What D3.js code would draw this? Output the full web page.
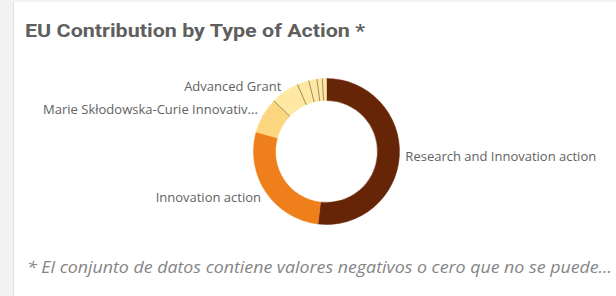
<!DOCTYPE html>
<html lang="en">
  <head>
    <meta charset="UTF-8" />
    <title>EU Contribution by Type of Action</title>
    <style>
      body {
        margin: 0;
        background-color: #f2f2f2;
      }
      svg {
        display: block;
      }
    </style>
  </head>
  <body>
    <svg></svg>
    <script src="https://d3js.org/d3.v7.min.js"></script>
    <script>
      const actionTypes = [
        "Research and Innovation action",
        "Innovation action",
        "Marie Skłodowska-Curie Innovative Training Networks",
        "Advanced Grant",
        "Coordination and support action",
        "Consolidator Grant",
        "Starting Grant",
        "Proof of Concept Grant"
      ];
      const contribution = [518, 274, 79, 63, 26, 18, 12, 9];
      const shownLabels = [
        "Research and Innovation action",
        "Innovation action",
        "Marie Skłodowska-Curie Innovativ...",
        "Advanced Grant"
      ];
      const sliceColors = ["#662506", "#ef7f1b", "#fdd680", "#fee8a2", "#fee8a2", "#fee8a2", "#fee8a2", "#fee8a2"];

      const gWidth = 616;
      const gHeight = 296;
      const cx = 326.5;
      const cy = 151.5;
      const outerR = 73;
      const innerR = 51;

      const svg = d3.select("svg").attr("width", gWidth).attr("height", gHeight);

      // panel
      svg.append("rect").attr("x", 13).attr("y", 2).attr("width", gWidth - 13).attr("height", gHeight - 2).attr("fill", "#fff");
      svg.append("line").attr("x1", 13.5).attr("x2", 13.5).attr("y1", 2).attr("y2", gHeight).attr("stroke", "#e2e2e2");

      svg.append("text")
        .attr("x", 25)
        .attr("y", 37)
        .attr("font-family", "Roboto, sans-serif")
        .attr("font-weight", "bold")
        .attr("font-size", 18)
        .attr("fill", "#5f5f5f")
        .attr("textLength", 340)
        .attr("lengthAdjust", "spacingAndGlyphs")
        .text("EU Contribution by Type of Action *");

      const data = actionTypes.map((d, i) => ({ name: d, value: contribution[i], color: sliceColors[i] }));
      const pie = d3.pie().sort(null).value((d) => d.value);
      const arcs = pie(data);
      const arc = d3.arc().innerRadius(innerR).outerRadius(outerR);

      const g = svg.append("g").attr("transform", `translate(${cx},${cy})`);

      g.selectAll("path")
        .data(arcs)
        .enter()
        .append("path")
        .attr("d", arc)
        .attr("fill", (d) => d.data.color)
        .attr("stroke", (d) => d.data.color)
        .attr("stroke-width", 0.5);

      // thin dividers between the small light slices
      g.selectAll("line.sep")
        .data(arcs.slice(3))
        .enter()
        .append("line")
        .attr("class", "sep")
        .attr("x1", (d) => innerR * Math.sin(d.startAngle))
        .attr("y1", (d) => -innerR * Math.cos(d.startAngle))
        .attr("x2", (d) => outerR * Math.sin(d.startAngle))
        .attr("y2", (d) => -outerR * Math.cos(d.startAngle))
        .attr("stroke", "#9a8d6c")
        .attr("stroke-width", 1);

      const labelR = outerR + 6;
      const mid = (d) => (d.startAngle + d.endAngle) / 2;
      g.selectAll("text.lbl")
        .data(arcs.slice(0, shownLabels.length))
        .enter()
        .append("text")
        .attr("class", "lbl")
        .attr("x", (d) => labelR * Math.sin(mid(d)))
        .attr("y", (d) => -labelR * Math.cos(mid(d)) + (mid(d) > 4.9 && mid(d) < 5.5 ? -3 : mid(d) > 3.5 && mid(d) < 4.5 ? 2 : 0))
        .attr("dy", "0.35em")
        .attr("text-anchor", (d) => (mid(d) < Math.PI ? "start" : "end"))
        .attr("font-family", "Open Sans, sans-serif")
        .attr("font-size", 13)
        .attr("fill", "#626262")
        .text((d, i) => shownLabels[i]);

      svg.append("text")
        .attr("x", 27)
        .attr("y", 273)
        .attr("font-family", "Open Sans, sans-serif")
        .attr("font-style", "italic")
        .attr("font-size", 16)
        .attr("fill", "#858585")
        .attr("textLength", 585)
        .attr("lengthAdjust", "spacingAndGlyphs")
        .text("* El conjunto de datos contiene valores negativos o cero que no se puede...");
    </script>
  </body>
</html>
